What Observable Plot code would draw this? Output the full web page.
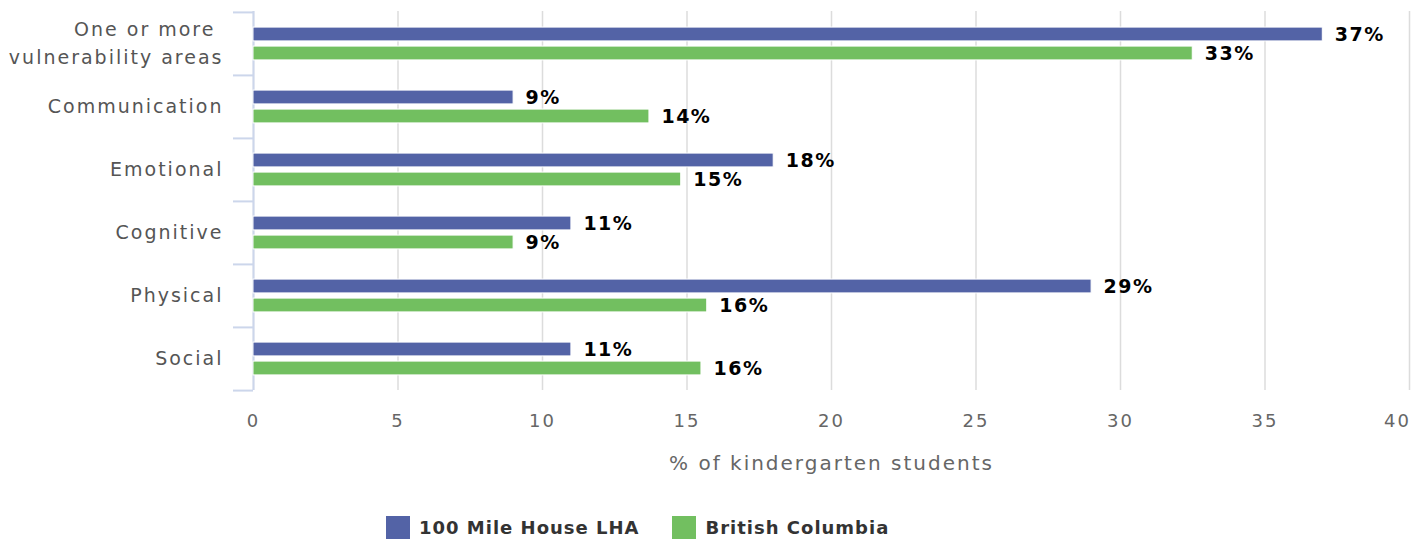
<!DOCTYPE html>
<html>
<head>
<meta charset="utf-8">
<script src="https://cdn.jsdelivr.net/npm/d3@7"></script>
<script src="https://cdn.jsdelivr.net/npm/@observablehq/plot@0.6"></script>
<style>
  body { margin: 0; background: #fff; font-family: "DejaVu Sans", sans-serif; }
  #chart { position: relative; width: 1424px; height: 542px; }
  #legend { position: absolute; left: 386px; top: 516px; display: flex; align-items: center; font-weight: bold; font-size: 18px; color: #333; letter-spacing: 1px; }
  .sw { width: 24px; height: 23px; display: inline-block; margin-right: 9px; }
  .item { display: flex; align-items: center; margin-right: 33px; }
</style>
</head>
<body>
<div id="chart"></div>
<script>
const categories = ["One or more\u00a0\nvulnerability areas", "Communication", "Emotional", "Cognitive", "Physical", "Social"];
const seriesNames = ["100 Mile House LHA", "British Columbia"];
const lhaValues = [37, 9, 18, 11, 29, 11];
const bcValues = [32.5, 13.7, 14.8, 9.0, 15.7, 15.5];
const xTicks = [0, 5, 10, 15, 20, 25, 30, 35, 40];
const xTitle = "% of kindergarten students";
const colors = ["#5363a6", "#72bf60"];

const W = 1424, H = 500;
const mTop = 11, mBottom = 110, mLeft = 253, mRight = 15;
const BAND = (H - mTop - mBottom) / categories.length;
const barH = 14, off = 9.5;
const topBlue = BAND / 2 - off - barH / 2;
const topGreen = BAND / 2 + off - barH / 2;

const lha = categories.map((c, i) => ({cat: c, value: lhaValues[i]}));
const bc = categories.map((c, i) => ({cat: c, value: bcValues[i]}));

const font = "DejaVu Sans, sans-serif";
const axisColor = "#ccd6eb";

const plot = Plot.plot({
  width: W, height: H,
  marginTop: mTop, marginBottom: mBottom, marginLeft: mLeft, marginRight: mRight,
  style: {fontFamily: font, background: "#fff", overflow: "visible"},
  x: {domain: [0, 40]},
  y: {domain: categories, padding: 0},
  marks: [
    Plot.gridX(xTicks, {stroke: "#dcdcdc", strokeOpacity: 1, strokeWidth: 1.5}),
    Plot.ruleX([0], {stroke: axisColor, strokeWidth: 2}),
    Plot.ruleY(categories, {y: d => d, x1: 0, x2: 0, insetLeft: -20, dy: -BAND / 2, stroke: axisColor, strokeWidth: 2}),
    Plot.ruleY(categories.slice(-1), {y: d => d, x1: 0, x2: 0, insetLeft: -20, dy: BAND / 2, stroke: axisColor, strokeWidth: 2}),
    Plot.barX(lha, {x: "value", y: "cat", fill: colors[0], stroke: "#fff", strokeWidth: 1, insetTop: topBlue, insetBottom: BAND - topBlue - barH}),
    Plot.barX(bc, {x: "value", y: "cat", fill: colors[1], stroke: "#fff", strokeWidth: 1, insetTop: topGreen, insetBottom: BAND - topGreen - barH}),
    Plot.text(lha, {x: "value", y: "cat", text: d => Math.round(d.value) + "%", dy: -off, dx: 12, textAnchor: "start", fontWeight: "bold", fontSize: 19, fill: "#000", className: "ls15"}),
    Plot.text(bc, {x: "value", y: "cat", text: d => Math.round(d.value) + "%", dy: off, dx: 12, textAnchor: "start", fontWeight: "bold", fontSize: 19, fill: "#000", className: "ls15"}),
    Plot.axisY({tickSize: 0, tickPadding: 30, dy: -3, fontSize: 19, fill: "#555", lineHeight: 1.47, label: null, className: "ls2"}),
    Plot.axisX(xTicks.slice(0, -1), {tickSize: 0, tickPadding: 24, fontSize: 18, fill: "#666", label: null, className: "ls2"}),
    Plot.axisX(xTicks.slice(-1), {tickSize: 0, tickPadding: 24, dx: -12, fontSize: 18, fill: "#666", label: null, className: "ls2"}),
    Plot.text([xTitle], {frameAnchor: "bottom", dx: 0, dy: 79, fontSize: 20, fill: "#666", className: "ls2"})
  ]
});

plot.querySelectorAll("g.ls2 text").forEach(t => t.setAttribute("letter-spacing", "2"));
plot.querySelectorAll("g.ls15 text").forEach(t => t.setAttribute("letter-spacing", "1.5"));
document.getElementById("chart").appendChild(plot);

const legend = document.createElement("div");
legend.id = "legend";
seriesNames.forEach((n, i) => {
  const it = document.createElement("div");
  it.className = "item";
  const sw = document.createElement("span");
  sw.className = "sw";
  sw.style.background = colors[i];
  it.appendChild(sw);
  it.appendChild(document.createTextNode(n));
  legend.appendChild(it);
});
document.getElementById("chart").appendChild(legend);
</script>
</body>
</html>
